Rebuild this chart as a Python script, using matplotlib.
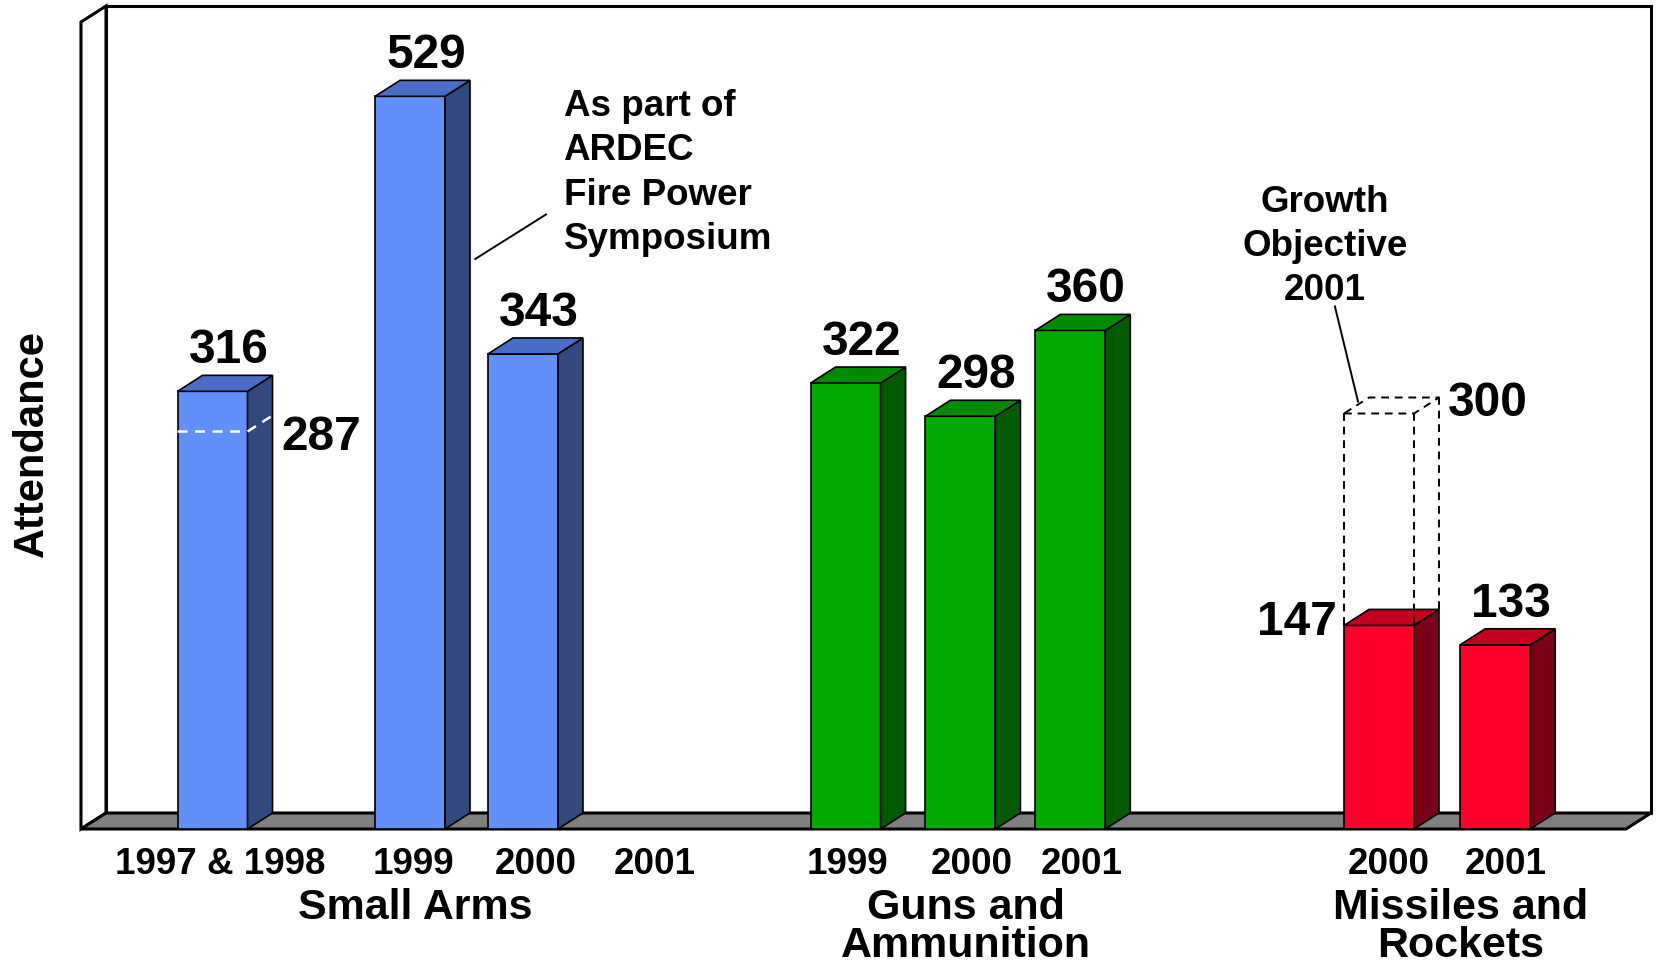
import numpy as np
import matplotlib.pyplot as plt
from matplotlib.patches import Polygon

plt.rcParams["font.family"] = ["Liberation Sans", "DejaVu Sans"]
plt.rcParams["font.weight"] = "bold"

# ---- data ----
small_years = ["1997 & 1998", "1999", "2000", "2001"]
small_vals = [316, 529, 343, np.nan]
small_1997 = 287
guns_years = ["1999", "2000", "2001"]
guns_vals = [322, 298, 360]
missile_years = ["2000", "2001"]
missile_vals = [147, 133]
missile_goal_2001 = 300

# ---- layout (x in bar widths, y in attendance) ----
W, H = 1657, 963
PX_X = 70.0          # px per x unit
PX_Y = 1.385         # px per attendee
FLOOR_PX = 829
DX = 25 / PX_X
DY = 16 / PX_Y

small_x = [2.536, 5.357, 6.971, 8.73]
guns_x = [11.58, 13.22, 14.79]
missile_x = [19.2, 20.86]
# where the year label sits relative to the bar's left edge
small_lab = [0.604, 0.546, 0.683, 0.63]
guns_lab = [0.53, 0.666, 0.666]
missile_lab = [0.637, 0.657]

BLUE = ("#6190fb", "#32497f", "#4a6dc8")
GREEN = ("#00aa00", "#005a00", "#008a00")
RED = ("#ff002b", "#7a0016", "#c4001f")
VAL_FS = 34.5

fig = plt.figure(figsize=(W / 100, H / 100), dpi=100)
ax = fig.add_axes([0, 0, 1, 1])
ax.set_xlim(0, W / PX_X)
ax.set_ylim(-(H - FLOOR_PX) / PX_Y, FLOOR_PX / PX_Y)
ax.axis("off")

# walls + floor
wl, wr, wt = 1.514, 23.586, 594.2
ax.add_patch(Polygon([(wl, DY), (wr, DY), (wr, wt), (wl, wt)], fc="white", ec="black", lw=2.2))
ax.add_patch(Polygon([(wl - DX, 0), (wl - DX, wt - DY), (wl, wt), (wl, DY)], fc="white", ec="black", lw=2.2))
ax.add_patch(Polygon([(wl - DX, 0), (wr - DX, 0), (wr, DY), (wl, DY)], fc="#808080", ec="black", lw=2.2))


def bar3d(x, v, cols):
    front, side, top = cols
    ax.add_patch(Polygon([(x, 0), (x + 1, 0), (x + 1, v), (x, v)], fc=front, ec="black", lw=1.2))
    ax.add_patch(Polygon([(x + 1, 0), (x + 1 + DX, DY), (x + 1 + DX, v + DY), (x + 1, v)],
                         fc=side, ec="black", lw=1.2))
    ax.add_patch(Polygon([(x, v), (x + 1, v), (x + 1 + DX, v + DY), (x + DX, v + DY)],
                         fc=top, ec="black", lw=1.2))


def val_label(x, v):
    ax.text(x + (1 + DX) / 2 + 0.05, v + DY + 8.7, f"{v:d}", ha="center", va="baseline",
            fontsize=VAL_FS, fontweight="bold")


TICK_Y = -32.6
for xs, offs, vals, years, cols in [(small_x, small_lab, small_vals, small_years, BLUE),
                                    (guns_x, guns_lab, guns_vals, guns_years, GREEN),
                                    (missile_x, missile_lab, missile_vals, missile_years, RED)]:
    for x, o, v, yr in zip(xs, offs, vals, years):
        if not np.isnan(v):
            bar3d(x, v, cols)
        ax.text(x + o, TICK_Y, yr, ha="center", va="baseline", fontsize=26.5, fontweight="bold")

for x, v in zip(small_x, small_vals):
    if not np.isnan(v):
        val_label(x, int(v))
for x, v in zip(guns_x, guns_vals):
    val_label(x, v)
val_label(missile_x[1], missile_vals[1])
ax.text(missile_x[0] - 0.1, missile_vals[0] + 2, f"{missile_vals[0]}", ha="right", va="center",
        fontsize=VAL_FS, fontweight="bold")

# 1997 level on first bar
x0 = small_x[0]
ax.plot([x0, x0 + 1, x0 + 1 + DX], [small_1997, small_1997, small_1997 + DY],
        color="white", lw=1.8, ls=(0, (4, 3)))
ax.text(x0 + 1 + DX + 0.12, small_1997 - 4, f"{small_1997}", ha="left", va="center",
        fontsize=VAL_FS, fontweight="bold")

# growth objective dashed box
gx, g0, g1 = missile_x[0], missile_vals[0], missile_goal_2001
dash = dict(color="black", lw=1.4, ls=(0, (4, 3)))
ax.plot([gx, gx], [g0, g1], **dash)
ax.plot([gx + 1, gx + 1], [g0, g1], **dash)
ax.plot([gx + 1 + DX, gx + 1 + DX], [g0 + DY, g1 + DY], **dash)
ax.plot([gx, gx + 1, gx + 1 + DX, gx + DX, gx], [g1, g1, g1 + DY, g1 + DY, g1], **dash)
ax.text(gx + 1 + DX + 0.12, g1 + DY * 0.6, f"{g1}", ha="left", va="center",
        fontsize=VAL_FS, fontweight="bold")

# annotations
for i, line in enumerate(["As part of", "ARDEC", "Fire Power", "Symposium"]):
    ax.text(8.05, 514.9 - i * 32.1, line, ha="left", va="baseline", fontsize=26.5, fontweight="bold")
ax.plot([6.79, 7.8], [411.6, 443.7], color="black", lw=1.4)

for i, line in enumerate(["Growth", "Objective", "2001"]):
    ax.text(18.93, 445.4 - i * 31.6, line, ha="center", va="baseline", fontsize=26.5, fontweight="bold")
ax.plot([19.07, 19.4], [377.3, 308.7], color="black", lw=1.4)

# group labels
for cx, lines in [(5.93, ["Small Arms"]), (13.8, ["Guns and", "Ammunition"]),
                  (20.86, ["Missiles and", "Rockets"])]:
    for i, line in enumerate(lines):
        ax.text(cx, -65.0 - i * 27.6, line, ha="center", va="baseline", fontsize=31, fontweight="bold")

ax.text(0.457, 278, "Attendance", rotation=90, ha="center", va="center", fontsize=30, fontweight="bold")

fig.savefig("out.png", dpi=100)
